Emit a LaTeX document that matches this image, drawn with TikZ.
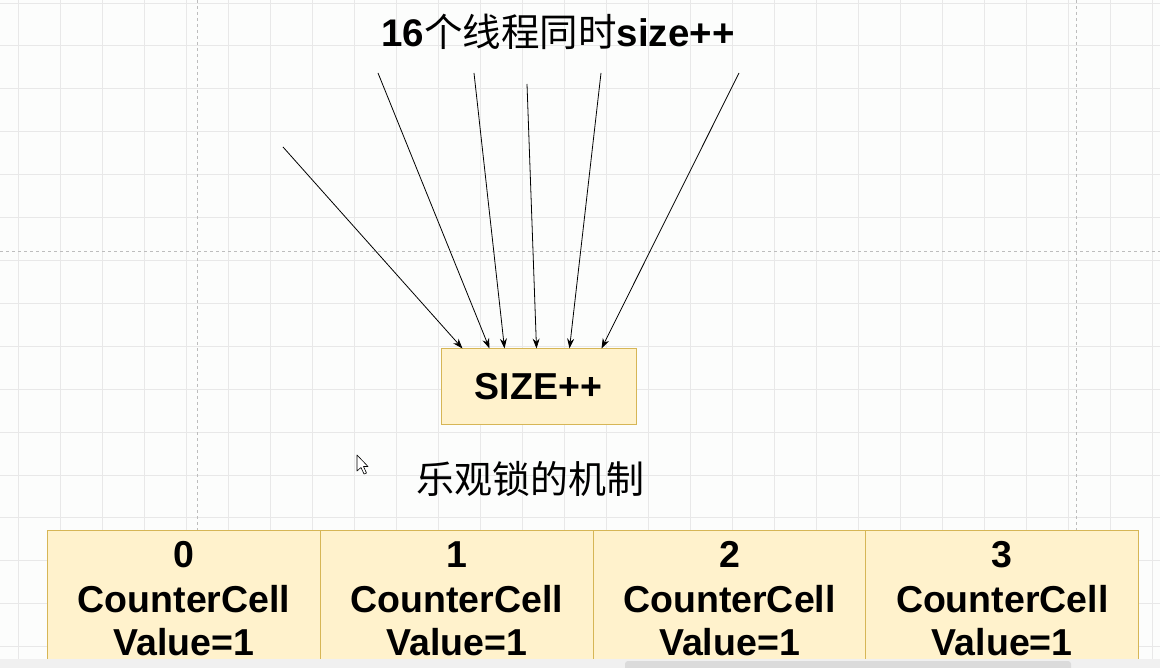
\documentclass[tikz,border=0pt]{standalone}
\usepackage{fontspec}
\setmainfont{Liberation Sans}
\newfontfamily\cjk{Noto Sans CJK SC}
\usetikzlibrary{arrows.meta,calc}
\definecolor{boxfill}{HTML}{FFF2CC}
\definecolor{boxline}{HTML}{D6B656}
\definecolor{gridc}{HTML}{E8E8E8}
\definecolor{dashc}{HTML}{BDBDBD}
\definecolor{bgc}{HTML}{FCFDFC}
\tikzset{
  yellowbox/.style={draw=boxline, fill=boxfill, line width=1pt, inner sep=0pt},
  cellbox/.style={yellowbox, minimum width=273pt, minimum height=135pt, anchor=north west},
  celltext/.style={font=\bfseries\fontsize{37.5}{44}\selectfont, anchor=base, inner sep=0pt},
  thread/.style={line width=0.8pt, -{Stealth[length=10pt,width=7pt]}},
  gridline/.style={gridc, line width=0.8pt},
  pageline/.style={dashc, line width=1pt, dash pattern=on 3pt off 3pt}
}
\begin{document}
\begin{tikzpicture}[x=1pt,y=-1pt]
\useasboundingbox (0,0) rectangle (1160,668);
\fill[bgc] (0,0) rectangle (1160,668);
% grid
\foreach \k in {0,...,27} { \draw[gridline] ({18+42.03*\k},0) -- ({18+42.03*\k},668); }
\foreach \k in {0,...,15} { \draw[gridline] (0,{3+42.9*\k}) -- (1160,{3+42.9*\k}); }
% page break lines
\draw[pageline] (0,252) -- (1160,252);
\draw[pageline] (197,0) -- (197,530);
\draw[pageline] (1076,0) -- (1076,530);
% title
\node[anchor=base, inner sep=0pt, font=\fontsize{38.5}{44}\selectfont] (title) at (558,47)
  {\bfseries 16{\cjk\mdseries 个线程同时}size++};
% central box
\node[yellowbox, minimum width=195pt, minimum height=75pt, font=\bfseries\fontsize{37.5}{44}\selectfont] (size) at (538.5,386.5) {SIZE++};
% thread starting points
\coordinate (s1) at (283,147);
\coordinate (s2) at (378,73);
\coordinate (s3) at (474,73);
\coordinate (s4) at (527,84);
\coordinate (s5) at (601,73);
\coordinate (s6) at (739,73);
\draw[thread] (s1) -- ($(size.north west)+(22,0)$);
\draw[thread] (s2) -- ($(size.north west)+(49,0)$);
\draw[thread] (s3) -- ($(size.north west)+(64,0)$);
\draw[thread] (s4) -- ($(size.north west)+(96,0)$);
\draw[thread] (s5) -- ($(size.north west)+(129,0)$);
\draw[thread] (s6) -- ($(size.north west)+(161,0)$);
% label
\node[anchor=base, inner sep=0pt, font=\cjk\fontsize{38}{44}\selectfont] (mech) at (530,493) {乐观锁的机制};
% cells
\foreach \i in {0,1,2,3} {
  \node[cellbox] (c\i) at ({47+272.75*\i},530) {};
  \node[celltext] (n\i) at ($(c\i.north)+(0,37)$) {\i};
  \node[celltext] (t\i) at ($(c\i.north)+(0,82)$) {CounterCell};
  \node[celltext] (v\i) at ($(c\i.north)+(0,125)$) {Value=1};
}
% cursor
\filldraw[fill=white, draw=black, line width=0.6pt, line join=round]
  (357,455) -- (357,471) -- (361,467.5) -- (364,474) -- (366.5,473) -- (363.5,466.5) -- (368,466.5) -- cycle;
% bottom scroll bar
\fill[black!6] (0,659) rectangle (1160,668);
\fill[black!14, rounded corners=3pt] (625,661) rectangle (1071,672);
\end{tikzpicture}
\end{document}
